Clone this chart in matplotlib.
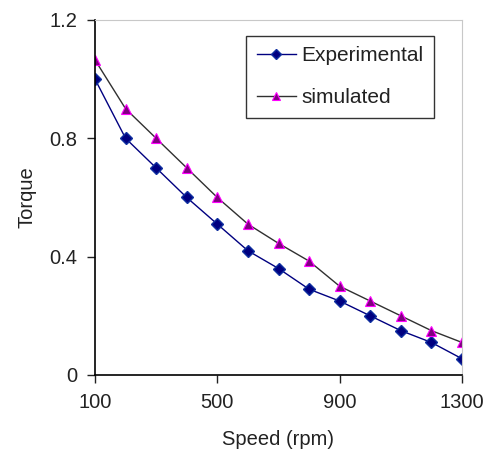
import matplotlib
matplotlib.use("Agg")
import matplotlib.pyplot as plt

# speed in rpm, torque values
speed = [100, 200, 300, 400, 500, 600, 700, 800, 900, 1000, 1100, 1200, 1300]
experimental = [1.0, 0.8, 0.7, 0.6, 0.51, 0.42, 0.36, 0.29, 0.25, 0.2, 0.15, 0.11, 0.055]
simulated = [1.065, 0.9, 0.8, 0.7, 0.6, 0.51, 0.445, 0.385, 0.3, 0.25, 0.2, 0.15, 0.11]

x_ticks = [100, 500, 900, 1300]
y_ticks = [0, 0.4, 0.8, 1.2]

plt.rcParams['font.family'] = ['Liberation Sans', 'DejaVu Sans']

fig = plt.figure(figsize=(4.92, 4.55), dpi=100)
ax = fig.add_axes([95 / 492, 1 - 375 / 455, (462 - 95) / 492, (375 - 20) / 455])

ax.plot(speed, experimental, color='#000080', marker='D', markersize=6,
        markerfacecolor='#000080', markeredgecolor='#1030a0', linewidth=1,
        label='Experimental')
ax.plot(speed, simulated, color='#303030', marker='^', markersize=7.5,
        markerfacecolor='#800080', markeredgecolor='#ff00ff', markeredgewidth=0.8,
        linewidth=1, label='simulated')

ax.set_xlim(100, 1300)
ax.set_ylim(0, 1.2)
ax.set_xticks(x_ticks)
ax.set_yticks(y_ticks)
ax.set_yticklabels(['0', '0.4', '0.8', '1.2'])
ax.tick_params(direction='out', length=6, width=1, labelsize=14.5, pad=7,
               colors='#222222')

ax.spines['top'].set_color('#c8c8c8')
ax.spines['right'].set_color('#c8c8c8')
ax.spines['left'].set_linewidth(1.2)
ax.spines['bottom'].set_linewidth(1.2)

ax.set_xlabel('Speed (rpm)', fontsize=14.5, labelpad=13, color='#222222')
ax.set_ylabel('Torque', fontsize=14.5, labelpad=9, color='#222222')

leg = ax.legend(loc='upper right', bbox_to_anchor=(434 / 492, 1 - 36 / 455),
                bbox_transform=fig.transFigure, borderaxespad=0, fontsize=15,
                frameon=True, fancybox=False, edgecolor='black',
                handlelength=1.9, handletextpad=0.25, labelspacing=1.1,
                borderpad=0.5, markerscale=0.85)
leg.get_frame().set_linewidth(1)
for t in leg.get_texts():
    t.set_color('#222222')

fig.savefig('out.png', dpi=100)
